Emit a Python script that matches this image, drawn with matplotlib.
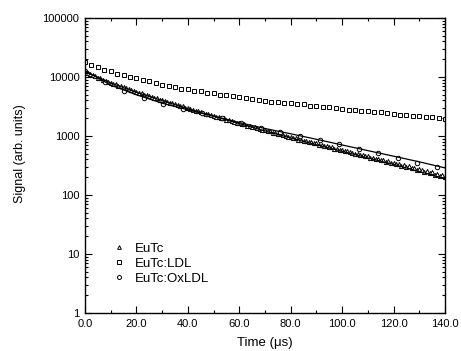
import numpy as np
import matplotlib
matplotlib.use('Agg')
import matplotlib.pyplot as plt
from matplotlib.ticker import LogLocator, FixedLocator, FormatStrFormatter

plt.rcParams['font.family'] = ['Liberation Sans', 'DejaVu Sans']

# EuTc: dense decay, one point per microsecond
eutc_t = np.arange(0, 141, 1.0)
eutc_y = [
    12500, 11800, 11350, 10800, 10350, 9800, 9450, 8950, 8700, 8250, 8050,
    7700, 7500, 7150, 7000, 6650, 6500, 6200, 6050, 5750, 5650,
    5400, 5280, 5030, 4950, 4720, 4630, 4420, 4350, 4150, 4080,
    3890, 3830, 3660, 3600, 3430, 3380, 3210, 3180, 3020, 2980,
    2840, 2800, 2680, 2640, 2520, 2490, 2380, 2350, 2240, 2220,
    2120, 2090, 2000, 1980, 1880, 1870, 1780, 1760, 1690, 1665,
    1590, 1575, 1500, 1495, 1425, 1410, 1345, 1335, 1270, 1260,
    1200, 1195, 1135, 1130, 1075, 1070, 1020, 1015, 960, 958,
    915, 912, 870, 868, 828, 822, 785, 782, 750, 748,
    712, 710, 678, 676, 642, 640, 612, 610, 582, 580,
    555, 552, 528, 525, 500, 500, 478, 475, 452, 450,
    430, 428, 408, 410, 388, 392, 368, 372, 350, 352,
    333, 336, 315, 322, 300, 308, 285, 292, 270, 280,
    266, 245, 255, 233, 244, 222, 230, 212, 222, 205,
]

# EuTc:LDL, one point every 2.5 microseconds
ldl_t = np.arange(0, 140.1, 2.5)
ldl_y = [
    17800, 15800, 14600, 13100, 12400, 11400, 10900, 10000, 9600, 8900,
    8600, 7950, 7450, 6950, 6650, 6250, 6150, 5850, 5680, 5380,
    5300, 5020, 4950, 4680, 4620, 4330, 4260, 4020, 3980, 3800,
    3780, 3610, 3590, 3440, 3420, 3270, 3240, 3100, 3080, 2930,
    2910, 2790, 2780, 2660, 2650, 2520, 2520, 2410, 2400, 2290,
    2290, 2180, 2180, 2080, 2070, 2020, 1940,
]

# EuTc:OxLDL, sparser points
ox_t = np.arange(0, 137, 7.6)
ox_y = [
    12800, 8300, 5900, 4480, 3540, 2920, 2420, 2000, 1650, 1390,
    1190, 1010, 855, 725, 610, 510, 425, 355, 298,
]

# fitted decay curves
fit_t = np.arange(0, 141, 10)
fit_eutc = [12300, 7900, 5500, 3980, 2900, 2160, 1620, 1220, 925, 710,
            550, 425, 330, 250, 188]
fit_ox = [12800, 7300, 5000, 3600, 2780, 2170, 1690, 1340, 1090, 880,
          705, 565, 455, 365, 288]

fig = plt.figure(figsize=(4.61, 3.51), dpi=100)
ax = fig.add_axes([85 / 461, 38 / 351, 360 / 461, 295 / 351])

mk = dict(color='black', markerfacecolor='white', markeredgewidth=0.7, linestyle='none')
ax.plot(eutc_t, eutc_y, marker='^', markersize=3.0, label='EuTc', **mk)
ax.plot(ldl_t, ldl_y, marker='s', markersize=2.7, label='EuTc:LDL', **mk)
ax.plot(ox_t, ox_y, marker='o', markersize=3.2, label='EuTc:OxLDL', **mk)
ax.plot(fit_t, fit_eutc, color='black', linewidth=0.9)
ax.plot(fit_t, fit_ox, color='black', linewidth=0.9)

ax.set_yscale('log')
ax.set_xlim(0, 140)
ax.set_ylim(1, 100000)

ax.xaxis.set_major_locator(FixedLocator(np.arange(0, 141, 20)))
ax.xaxis.set_minor_locator(FixedLocator(np.arange(10, 140, 20)))
ax.xaxis.set_major_formatter(FormatStrFormatter('%.1f'))
ax.yaxis.set_major_locator(LogLocator(base=10, numticks=10))
ax.yaxis.set_minor_locator(LogLocator(base=10, subs=np.arange(2, 10), numticks=10))
ax.yaxis.set_major_formatter(FormatStrFormatter('%d'))

ax.tick_params(which='both', direction='in', top=True, right=True, labelsize=8, width=0.8)
ax.tick_params(which='major', length=5, pad=4)
ax.tick_params(which='minor', length=2.5)
for s in ax.spines.values():
    s.set_linewidth(1.0)

ax.set_xlabel('Time (\u03bcs)', fontsize=9.5)
ax.set_ylabel('Signal (arb. units)', fontsize=9)
ax.xaxis.set_label_coords(0.5, -0.08)
ax.yaxis.set_label_coords(-0.165, 0.54)

ax.legend(loc='lower left', bbox_to_anchor=(0.072, 0.095), frameon=False, fontsize=9.5,
          handlelength=1.2, handletextpad=0.6, labelspacing=0.22, borderaxespad=0,
          borderpad=0, markerscale=0.9)

fig.savefig('out.png', dpi=100)
